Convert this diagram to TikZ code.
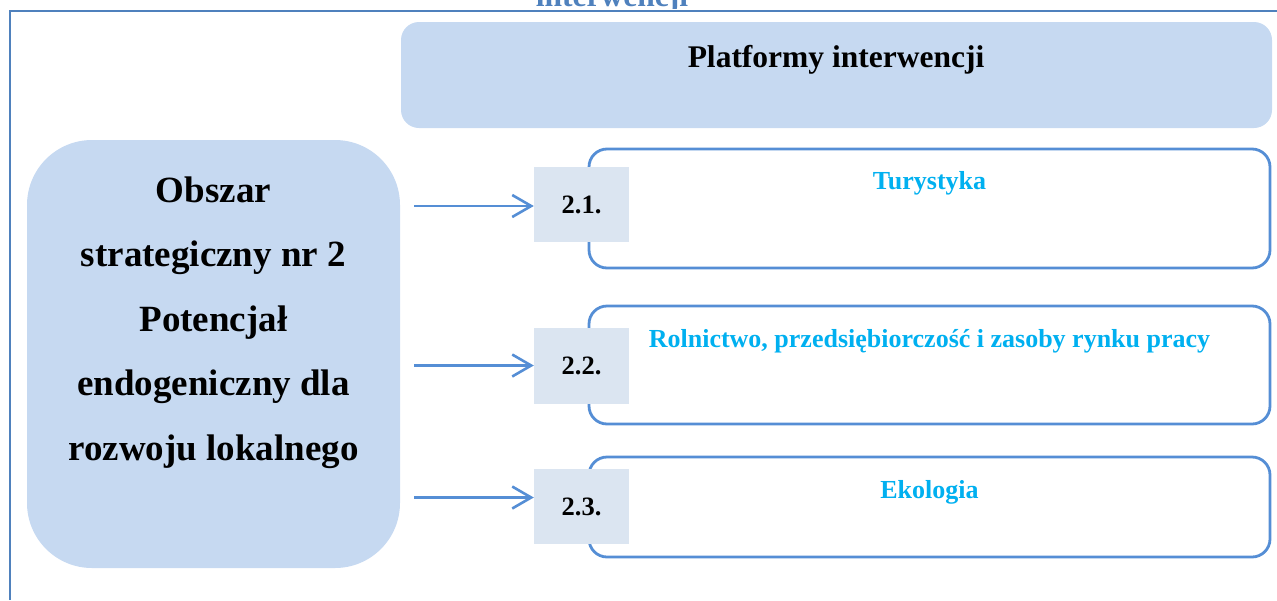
\documentclass[tikz,border=0pt]{standalone}
\usepackage{fontspec}
\setmainfont{Liberation Serif}
\usetikzlibrary{arrows.meta}
\definecolor{framecol}{HTML}{4F81BD}
\definecolor{fillA}{HTML}{C6D9F1}
\definecolor{fillB}{HTML}{DBE5F1}
\definecolor{linecol}{HTML}{558ED5}
\definecolor{cyantext}{HTML}{00B0F0}
\begin{document}
\begin{tikzpicture}[x=1pt,y=-1pt,
  bigbox/.style={fill=fillA, rounded corners=65pt, minimum width=373pt, minimum height=428pt, inner sep=0pt},
  platbox/.style={fill=fillA, rounded corners=18pt, minimum width=871pt, minimum height=106pt, inner sep=0pt},
  outbox/.style={draw=linecol, line width=2.8pt, fill=white, rounded corners=18pt, minimum width=681pt, inner sep=0pt},
  numbox/.style={fill=fillB, minimum width=95pt, inner sep=0pt, font=\bfseries\fontsize{26.5}{30}\selectfont},
  cyanlabel/.style={anchor=base, text=cyantext, inner sep=0pt, font=\bfseries\fontsize{26}{30}\selectfont},
  arr/.style={draw=linecol, line width=2.6pt, -{Straight Barb[length=19pt,width=22pt,line width=2.6pt]}}
]
\useasboundingbox (0,0) rectangle (1277,600);
% frame
\draw[framecol, line width=2.6pt] (10,600) -- (10,11) -- (1277,11);
\begin{scope}
  \clip (0,-40) rectangle (1277,8);
  \node[anchor=base, inner sep=0pt, text=framecol, font=\bfseries\fontsize{31.5}{36}\selectfont] (toptxt) at (612,6) {interwencji};
\end{scope}
% platform header
\node[platbox] (plat) at (836.5,75) {};
\node[anchor=base, inner sep=0pt, font=\bfseries\fontsize{31.5}{36}\selectfont] (platt) at (836,67) {Platformy interwencji};
% left box
\node[bigbox] (obszar) at (213.5,354) {};
\node[align=center, inner sep=0pt, font=\bfseries\fontsize{37}{64.5}\selectfont] (obszart) at (213.5,322.5)
  {Obszar\\strategiczny nr 2\\Potencjał\\endogeniczny dla\\rozwoju lokalnego};
% outline boxes
\node[outbox, minimum height=119pt] (b1) at (929.5,208.5) {};
\node[outbox, minimum height=118pt] (b2) at (929.5,365) {};
\node[outbox, minimum height=100pt] (b3) at (929.5,507) {};
% number squares
\node[numbox, minimum height=75pt] (s1) at (581.5,204.5) {2.1.};
\node[numbox, minimum height=76pt] (s2) at (581.5,366) {2.2.};
\node[numbox, minimum height=75pt] (s3) at (581.5,506.5) {2.3.};
% labels
\node[cyanlabel] (l1) at (929.5,189) {Turystyka};
\node[cyanlabel] (l2) at (929.5,347) {Rolnictwo, przedsiębiorczość i zasoby rynku pracy};
\node[cyanlabel] (l3) at (929.5,498) {Ekologia};
% arrows
\coordinate (a1) at (414,206);
\coordinate (a2) at (414,365.5);
\coordinate (a3) at (414,497.5);
\draw[arr] (a1) -- (a1 -| s1.west);
\draw[arr] (a2) -- (a2 -| s2.west);
\draw[arr] (a3) -- (a3 -| s3.west);
\end{tikzpicture}
\end{document}
